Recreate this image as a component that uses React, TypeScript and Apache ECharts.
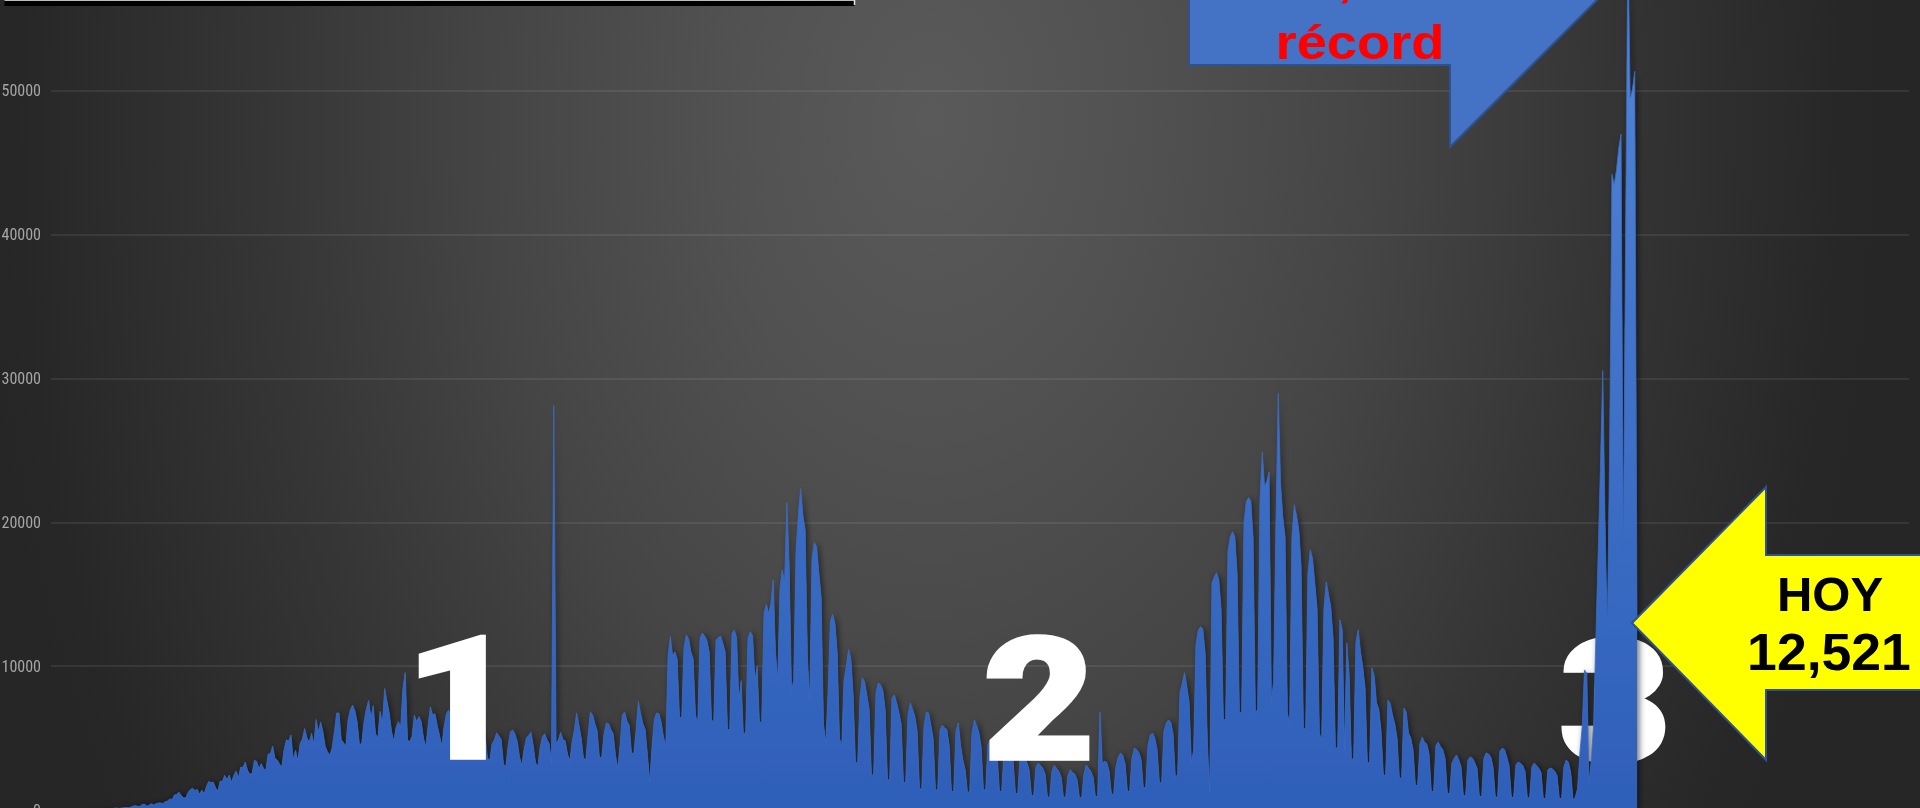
import React, { useEffect, useRef } from "react";
import * as echarts from "echarts";

// Daily new cases (Feb 28 2020 -> Jan 22 2022), one row per week (Mon..Sun)
const casesWave1 = [
  1, 2, 1,
  0, 1, 0, 0, 1, 0, 2,
  0, 1, 4, 4, 4, 15, 12,
  29, 11, 25, 26, 39, 48, 65,
  51, 54, 70, 108, 132, 135, 110,
  145, 163, 178, 163, 202, 278, 296,
  253, 262, 397, 396, 260, 353, 442,
  351, 442, 491, 493, 448, 578, 622,
  764, 729, 1043, 1089, 1239, 1002, 835,
  852, 1223, 1425, 1515, 1349, 1434, 1094,
  1383, 1120, 1609, 1982, 1906, 1938, 1562,
  1305, 1997, 1992, 2409, 2112, 2437, 1938,
  2414, 2713, 2248, 2973, 2960, 3329, 2764,
  2485, 2550, 3455, 3377, 2885, 3227, 2885,
  2771, 3891, 3912, 4442, 3593, 3484, 3190,
  2999, 4199, 4883, 4790, 5222, 3494, 4147,
  3427, 4599, 4930, 5662, 5030, 4717, 5343,
  4577, 6288, 5437, 6104, 5441, 4410, 4050,
  3805, 4317, 5432, 6741, 6740, 4902, 4683,
  4439, 6258, 6995, 7280, 6891, 6094, 4482,
  4685, 6149, 7051, 7615, 6406, 7257, 5311,
  4973, 6859, 6019, 8438, 7573, 6751, 5480,
  4767, 5752, 6148, 5752, 8458, 9556, 4853,
  4767, 5131, 6590, 6139, 6495, 6148, 5000,
  4376, 5858, 7171, 6590, 6700, 5900, 5200,
  4448, 5792, 6686, 6959, 6482, 6051, 4717,
  3948, 4950, 6602, 6960, 6406, 5822, 4000,
  3719, 4700, 5430, 5780, 4400, 5100, 3600,
  3480, 4600, 4870, 5360, 5150, 4900, 3200,
  3000, 4400, 5430, 5570, 5300, 4800, 3700,
  3100, 4200, 5000, 5200, 5400, 4500, 3300,
  3000, 4300, 5100, 5300, 4900, 4600, 3200,
  28115, 4600, 4870, 5400, 4900, 4800, 3900,
  3400, 4700, 5570, 6750, 5900, 5000, 3600,
  3500, 5200, 6820, 6600, 6000, 5500, 3600,
  3700, 5300, 6050, 6000, 5600, 5300, 3800,
  2900, 4500, 6600, 6820, 6200, 5900, 4000,
  3900, 5500, 7540, 6700, 6000, 5600, 3800,
];

const casesWave2 = [
  1950, 4400, 6300, 6750, 6700, 6100, 5100,
  4400, 10650, 12040, 10700, 11000, 10500, 6470,
  6400, 11350, 12180, 11900, 11000, 10500, 6600,
  6000, 11970, 12300, 12100, 11800, 11000, 6300,
  6050, 11800, 12000, 12100, 11600, 11000, 5570,
  5600, 12300, 12500, 12000, 7600, 9000, 5080,
  5500, 12000, 12400, 12100, 9000, 10000, 6000,
  6200, 13700, 14300, 13700, 14362, 16000, 11000,
  9000, 15500, 16700, 15800, 21366, 17000, 8350,
  9000, 18000, 20548, 22339, 20500, 19500, 10500,
  7650, 17500, 18600, 18300, 16500, 14800, 6000,
  4660, 8000, 13100, 13600, 13000, 11000, 5000,
  4400, 9000, 10000, 11150, 10500, 8000, 3270,
  3300, 7850, 9200, 8900, 8000, 7000, 2300,
  2550, 8150, 8840, 8700, 8300, 7000, 2090,
  2100, 7800, 8000, 7450, 6800, 6000, 1880,
  1950, 6600, 7450, 7000, 6500, 5500, 1530,
  1400, 5800, 6800, 6750, 5900, 5000, 1390,
  1400, 5550, 5900, 5700, 5600, 4500, 1250,
  1300, 5500, 6050, 4500, 3500, 2800, 1250,
  1250, 5350, 6260, 5900, 5400, 4400, 1390,
  1400, 4600, 4800, 4700, 4400, 3900, 1300,
  1300, 4000, 4300, 4100, 3800, 3400, 1200,
  1100, 3500, 3800, 3600, 3300, 2800, 1000,
  1000, 3000, 3270, 3100, 2900, 2500, 900,
  900, 2700, 3100, 2900, 2700, 2300, 900,
  900, 2400, 2800, 2600, 2500, 2100, 850,
];

const casesWave3 = [
  850, 2500, 3130, 2900, 2700, 2300, 900,
  1000, 6800, 3200, 3400, 3300, 2700, 1100,
  1100, 3000, 3700, 3970, 3800, 3200, 1300,
  1300, 3600, 4300, 4200, 4000, 3500, 1500,
  1600, 4500, 5200, 5360, 5000, 4200, 1880,
  1900, 5500, 6050, 6260, 6100, 5300, 2200,
  2500, 8150, 8800, 9550, 8600, 7500, 3270,
  4200, 11500, 12500, 12740, 12600, 11000, 4660,
  1180, 15800, 16200, 16500, 16000, 14000, 6260,
  6300, 18000, 19000, 19350, 19000, 16500, 6750,
  6800, 20000, 21440, 21720, 21500, 19000, 6750,
  7000, 21500, 24870, 22500, 22850, 23500, 7450,
  9000, 20000, 28953, 22750, 20400, 19000, 6750,
  6000, 19000, 21220, 20500, 19500, 17000, 5780,
  5500, 16500, 18100, 17500, 15800, 14000, 5360,
  4800, 14000, 15870, 15000, 14130, 12000, 4400,
  4200, 13220, 12500, 4200, 11620, 9500, 3600,
  3500, 11700, 12530, 11000, 9950, 8500, 3270,
  3300, 9880, 9300, 7450, 7000, 5500, 2440,
  2400, 7650, 7400, 6600, 6000, 5000, 2230,
  2200, 7100, 6800, 5360, 5000, 4200, 1740,
  1700, 4600, 5080, 4700, 4600, 3900, 1250,
  1300, 4500, 4730, 4400, 4200, 3600, 1200,
  1100, 3270, 3600, 3830, 3500, 3000, 1000,
  1000, 3480, 3690, 3600, 3300, 2900, 950,
  900, 3600, 3970, 3900, 3700, 3000, 900,
  900, 4100, 4300, 4200, 3700, 3100, 900,
  850, 3130, 3340, 3250, 3100, 2700, 850,
  850, 3000, 3270, 3100, 2900, 2600, 800,
  800, 2800, 2920, 2850, 2700, 2400, 800,
];

const casesWave4 = [
  800, 3000, 3480, 3300, 2600, 700, 900,
  1500, 3970, 5780, 9740, 9500, 1880, 3500,
  6000, 12000, 18000, 24000, 30550, 20000, 12250,
  25000, 44200, 43500, 44500, 46000, 47000, 17470,
  40000, 60552, 49500, 50100, 51360, 12521,
];

const seriesValues = [...casesWave1, ...casesWave2, ...casesWave3, ...casesWave4];

// Axis: daily categories from Feb 28 2020 (axis runs past the last data day)
const AXIS_START = { y: 2020, m: 1, d: 28 };
const AXIS_DAYS = 814;
const categories: string[] = [];
for (let i = 0; i < AXIS_DAYS; i++) {
  const dt = new Date(Date.UTC(AXIS_START.y, AXIS_START.m, AXIS_START.d + i));
  categories.push(dt.toISOString().slice(0, 10));
}

const Y_MIN = 0;
const Y_MAX = 60000;
const Y_STEP = 10000;

const waveLabels = ["1", "2", "3"];
const todayLabel = ["HOY", "12,521"];
const recordLabel = ["60,552", "récord"];

const SANS = "Liberation Sans";

export default function App() {
  const ref = useRef<HTMLDivElement>(null);

  useEffect(() => {
    if (!ref.current) return;
    const chart = echarts.init(ref.current, undefined, { renderer: "svg" });

    const textStyle = (text: string, size: number, fill: string, extra: any = {}) => ({
      x: 0,
      y: 0,
      text,
      fontSize: size,
      fontWeight: "bold",
      fontFamily: SANS,
      fill,
      textAlign: "center",
      textVerticalAlign: "middle",
      align: "center",
      verticalAlign: "middle",
      ...extra,
    });

    const bigText = (label: string, x: number, y: number, z: number) => ({
      type: "text",
      x,
      y,
      scaleX: 1.13,
      z,
      silent: true,
      style: textStyle(label, 171, "#ffffff", {
        fontFamily: "Roboto, 'Open Sans', Inter, sans-serif",
        fontWeight: 900,
        stroke: "#ffffff",
        lineWidth: 3.5,
      }),
    });

    const option: any = {
      animation: false,
      grid: { left: 51, right: 11, top: -53, bottom: -2, containLabel: false, outerBoundsMode: "none" },
      xAxis: {
        type: "category",
        data: categories,
        boundaryGap: false,
        axisLine: { show: false },
        axisTick: { show: false },
        axisLabel: { show: false },
        splitLine: { show: false },
      },
      yAxis: {
        type: "value",
        min: Y_MIN,
        max: Y_MAX,
        interval: Y_STEP,
        axisLine: { show: false },
        axisTick: { show: false },
        axisLabel: {
          margin: 10,
          color: "#a6a6a6",
          fontSize: 16,
          fontFamily: "'Liberation Sans Narrow', 'Roboto Condensed', 'DejaVu Sans Condensed', sans-serif",
          formatter: (v: number) => (v >= Y_MAX ? "" : String(v)),
        },
        splitLine: { lineStyle: { color: "rgba(255,255,255,0.1)", width: 1.5 } },
      },
      series: [
        {
          type: "line",
          data: seriesValues,
          symbol: "none",
          showSymbol: false,
          smooth: false,
          clip: true,
          z: 2,
          lineStyle: { width: 0.8, color: "#3A6BC5" },
          areaStyle: {
            opacity: 1,
            color: new echarts.graphic.LinearGradient(0, 0, 0, 1, [
              { offset: 0, color: "#5689DA" },
              { offset: 0.45, color: "#4274CA" },
              { offset: 1, color: "#2E5FB9" },
            ]),
            shadowColor: "rgba(0,0,0,0.6)",
            shadowBlur: 6,
            shadowOffsetX: 2,
            shadowOffsetY: 0,
          },
          emphasis: { disabled: true },
        },
      ],
      graphic: [
        // black title box cut off at top
        { type: "rect", z: 20, silent: true, shape: { x: 4.5, y: 0, width: 850, height: 6 }, style: { fill: "#000000" } },
        { type: "line", z: 21, silent: true, shape: { x1: 4.5, y1: 0.5, x2: 854.5, y2: 0.5 }, style: { stroke: "#bdbdbd", lineWidth: 1 } },
        { type: "line", z: 21, silent: true, shape: { x1: 854.5, y1: 0, x2: 854.5, y2: 5 }, style: { stroke: "#e6e6e6", lineWidth: 1.5 } },
        // wave numbers
        bigText(waveLabels[0], 461, 700, 10),
        bigText(waveLabels[1], 1039, 701, 10),
        bigText(waveLabels[2], 1615, 703, 1),
        // blue callout
        {
          type: "polygon",
          z: 20,
          silent: true,
          shape: { points: [[1189, -60], [1189, 65], [1450, 65], [1450, 147], [1657, -60]] },
          style: { fill: "#4472C4", stroke: "#2F528F", lineWidth: 2 },
        },
        {
          type: "text", z: 21, x: 1360, y: -20, scaleX: 1.13, silent: true,
          style: textStyle(recordLabel[0], 48, "#ff0000"),
        },
        {
          type: "text", z: 21, x: 1360, y: 43, scaleX: 1.13, silent: true,
          style: textStyle(recordLabel[1], 48, "#ff0000"),
        },
        // yellow arrow
        {
          type: "polygon",
          z: 20,
          silent: true,
          shape: { points: [[1632, 623], [1766, 487], [1766, 555], [1940, 555], [1940, 690], [1766, 690], [1766, 760]] },
          style: { fill: "#FFFF00", stroke: "#2F528F", lineWidth: 2 },
        },
        {
          type: "text", z: 21, x: 1830, y: 594, silent: true,
          style: textStyle(todayLabel[0], 49, "#000000"),
        },
        {
          type: "text", z: 21, x: 1829, y: 652, scaleX: 1.05, silent: true,
          style: textStyle(todayLabel[1], 51, "#000000"),
        },
      ],
    };

    chart.setOption(option);
    return () => chart.dispose();
  }, []);

  return (
    <div
      ref={ref}
      style={{
        position: "fixed",
        left: 0,
        top: 0,
        width: 1920,
        height: 808,
        background:
          "radial-gradient(ellipse 960px 1400px at 930px 120px, #5a5a5a 0%, #515151 22%, #454545 46%, #353535 70%, #272727 95%, #262626 100%)",
      }}
    />
  );
}
